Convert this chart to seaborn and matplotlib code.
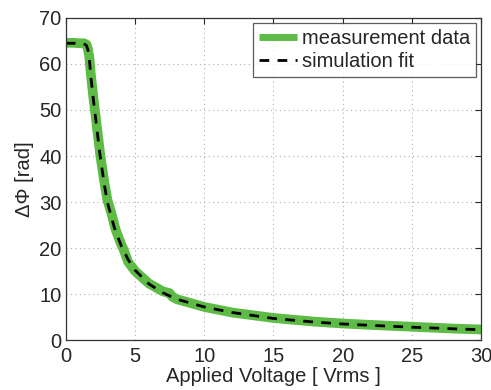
import matplotlib
matplotlib.use("Agg")
import matplotlib.pyplot as plt
import seaborn as sns
import pandas as pd

sim_v = [0, 0.5, 1.0, 1.3, 1.5, 1.6, 1.7, 1.8, 2.0, 2.2, 2.5, 2.8, 3.0, 3.5, 4.0, 4.5, 5, 6, 7, 8, 10, 12, 15, 18, 20, 22, 25, 28, 30]
sim_phi = [64.5, 64.5, 64.5, 64.4, 64.0, 63.0, 61.0, 57.5, 52.0, 47.0, 39.5, 33.5, 30.0, 24.5, 20.5, 17.5, 15.2, 12.2, 10.3, 8.9, 7.2, 6.0, 4.7, 3.9, 3.5, 3.2, 2.8, 2.45, 2.25]

meas_v = [0, 0.5, 1.0, 1.3, 1.5, 1.6, 1.7, 1.8, 2.0, 2.2, 2.5, 2.8, 3.0, 3.3, 3.6, 4.0, 4.2, 4.5, 5, 6, 7, 7.5, 7.7, 8, 10, 12, 15, 18, 20, 22, 25, 28, 30]
meas_phi = [64.6, 64.6, 64.5, 64.5, 64.2, 63.2, 61.5, 58.0, 52.5, 47.5, 40.0, 34.0, 30.5, 27.5, 24.0, 20.8, 19.5, 17.0, 15.0, 12.3, 10.6, 10.2, 9.4, 8.9, 7.2, 6.0, 4.8, 4.0, 3.6, 3.3, 2.9, 2.5, 2.3]

x_ticks = [0, 5, 10, 15, 20, 25, 30]
y_ticks = [0, 10, 20, 30, 40, 50, 60, 70]

sns.set_style("white")
plt.rcParams['font.family'] = ['Liberation Sans', 'DejaVu Sans']

fig = plt.figure(figsize=(4.91, 3.90), dpi=100)
ax = fig.add_axes([0.134, 0.128, 0.846, 0.826])

meas = pd.DataFrame({"V": meas_v, "phi": meas_phi})
sim = pd.DataFrame({"V": sim_v, "phi": sim_phi})

sns.lineplot(data=meas, x="V", y="phi", ax=ax, color="#5dbb46", linewidth=7,
             solid_capstyle="round", label="measurement data", sort=False)
sns.lineplot(data=sim, x="V", y="phi", ax=ax, color="black", linewidth=2,
             linestyle=(0, (3.5, 3)), label="simulation fit", sort=False)

ax.set_xlim(0, 30)
ax.set_ylim(0, 70)
ax.set_xticks(x_ticks)
ax.set_yticks(y_ticks)
ax.grid(True, linestyle=(0, (1, 3)), color="#b0b0b0", linewidth=0.8)
ax.tick_params(direction="in", top=True, right=True, labelsize=14.5, length=4, width=0.8, pad=3)
ax.tick_params(axis="x", pad=5)
for s in ax.spines.values():
    s.set_color("#333333")
    s.set_linewidth(0.9)
ax.set_xlabel("Applied Voltage [ Vrms ]", fontsize=14.5, labelpad=1)
ax.set_ylabel("ΔΦ [rad]", fontsize=14.5, labelpad=4)

leg = ax.legend(loc="upper right", fontsize=14.5, frameon=True, fancybox=False,
                handlelength=1.9, handletextpad=0.25, borderpad=0.3, labelspacing=0.2,
                borderaxespad=0.25)
leg.get_frame().set_edgecolor("#333333")
leg.get_frame().set_linewidth(0.9)
leg.get_lines()[0].set_linewidth(5)
leg.get_lines()[0].set_solid_capstyle("butt")

fig.savefig("out.png", dpi=100)
